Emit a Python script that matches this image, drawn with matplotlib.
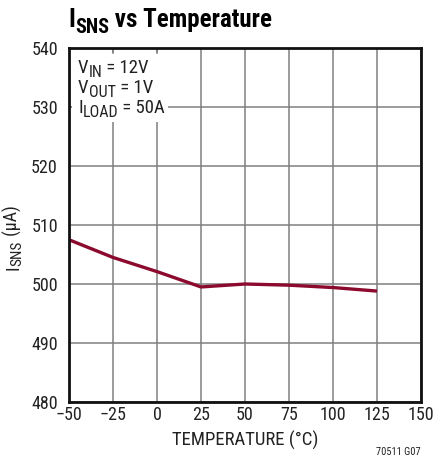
import matplotlib
matplotlib.use("Agg")
import matplotlib.pyplot as plt
from matplotlib.transforms import IdentityTransform
from matplotlib.patches import Rectangle

temps = [-50, -25, 0, 25, 50, 75, 100, 125]
isns = [507.5, 504.5, 502.1, 499.5, 500.0, 499.8, 499.4, 498.8]
xticks = [-50, -25, 0, 25, 50, 75, 100, 125, 150]
xticklabels = ["\u221250", "\u221225", "0", "25", "50", "75", "100", "125", "150"]
yticks = [480, 490, 500, 510, 520, 530, 540]

FONT = 'Roboto Condensed'
plt.rcParams['font.family'] = [FONT, 'DejaVu Sans']

W, H = 435, 469
fig = plt.figure(figsize=(W / 100, H / 100), dpi=100)
ax = fig.add_axes([69/W, 67/H, (421-69)/W, (402-48)/H])
ax.set_axisbelow(True)

ax.plot(temps, isns, color='#8B0A2E', lw=2.4, zorder=3, solid_capstyle='butt')
ax.set_xlim(-50, 150)
ax.set_ylim(480, 540)
ax.set_xticks(xticks)
ax.set_xticklabels(xticklabels)
ax.set_yticks(yticks)
ax.grid(True, color='#808080', lw=1.1)
ax.tick_params(direction='in', length=0, labelsize=13, pad=3, labelcolor='#222222')
ax.tick_params(axis='y', pad=8)
for s in ax.spines.values():
    s.set_linewidth(2.0)
    s.set_color('#111111')
    s.set_zorder(5)

# white box behind the condition text
ax.add_patch(Rectangle((3/352, 1 - 74/354), (168-72)/352, 69/354, transform=ax.transAxes,
                       facecolor='white', edgecolor='none', zorder=1))
# short inward tick marks visible at box edges
for xx in [-25, 0]:
    ax.plot([xx, xx], [540, 539.1], color='#808080', lw=1.1, zorder=2)
ax.plot([-50, -49.0], [530, 530], color='#808080', lw=1.1, zorder=2)

renderer = fig.canvas.get_renderer()


def rich(x, y, pieces, rot=0, weight='normal', color='#222222'):
    """pieces: (text, fontsize, drop_px). x, y in pixels from top-left (baseline start)."""
    pos = 0.0
    for txt, size, drop in pieces:
        if rot == 0:
            px, py = x + pos, H - (y + drop)
        else:
            px, py = x + drop, H - (y - pos)
        t = fig.text(px, py, txt, transform=IdentityTransform(), fontsize=size,
                     fontweight=weight, rotation=rot, rotation_mode='anchor',
                     ha='left', va='baseline', color=color)
        bb = t.get_window_extent(renderer)
        pos += bb.width if rot == 0 else bb.height


fs = 13.5
sub = 11.5
rich(78, 73, [('V', fs, 0), ('IN', sub, 3.5), (' = 12V', fs, 0)])
rich(78, 93, [('V', fs, 0), ('OUT', sub, 3.5), (' = 1V', fs, 0)])
rich(78, 113, [('I', fs, 0), ('LOAD', sub, 3.5), (' = 50A', fs, 0)])

# title
rich(68, 27, [('I', 18, 0), ('SNS', 14.5, 6), (' vs Temperature', 18, 0)], weight='bold',
     color='black')

# y label (rotated)
rich(18, 270, [('I', 13, 0), ('SNS', 11, 3.5), (' (\u00b5A)', 13, 0)], rot=90)

ax.set_xlabel('TEMPERATURE (\u00b0C)', fontsize=13.5, labelpad=5, color='#222222')

fig.text(421/W, 1 - 452/H, '70511 G07', fontsize=7.5, ha='right', va='center', color='#222222')

fig.savefig('out.png', dpi=100)
